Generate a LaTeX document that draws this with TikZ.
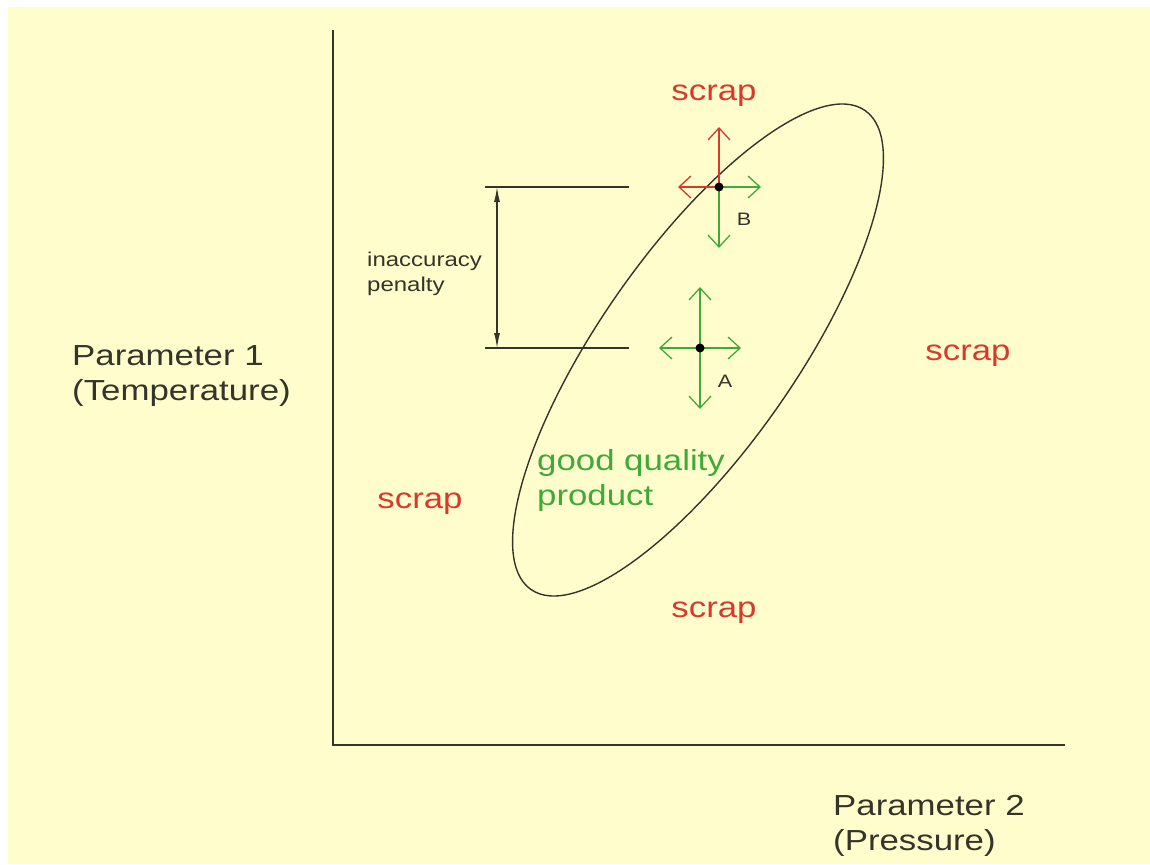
\documentclass[tikz,border=0pt]{standalone}
\usepackage{fontspec}
\setmainfont{Liberation Sans}[FakeStretch=1.2]
\usetikzlibrary{arrows.meta}
\definecolor{bgyellow}{HTML}{FFFDCC}
\definecolor{scrapred}{HTML}{D63A2E}
\definecolor{goodgreen}{HTML}{3FAA3A}
\definecolor{linedark}{HTML}{34342A}
\tikzset{
  axisline/.style={draw=linedark, line width=1.8pt},
  thinline/.style={draw=linedark, line width=1.4pt},
  bigtext/.style={font=\fontsize{29}{35}\selectfont, inner sep=0pt, align=left},
  smalltext/.style={font=\fontsize{20}{25}\selectfont, inner sep=0pt, align=left, text=linedark},
  scraplabel/.style={bigtext, text=scrapred},
  vtip/.style={-{Straight Barb[length=12pt,width=22pt,line width=1.3pt]}},
  greenarrow/.style={draw=goodgreen, line width=1.3pt, vtip},
  redarrow/.style={draw=scrapred, line width=1.3pt, vtip},
  dimarrow/.style={draw=linedark, line width=1.2pt, {Latex[length=15pt,width=6pt]}-{Latex[length=15pt,width=6pt]}},
  pointdot/.style={circle, fill=black, inner sep=0pt, minimum size=9pt},
}
\begin{document}
\begin{tikzpicture}[x=1pt,y=-1pt]
\useasboundingbox (0,0) rectangle (1150,864);
\fill[white] (0,0) rectangle (1150,864);
\fill[bgyellow] (8,7) rectangle (1150,864);
% axes
\coordinate (ytop) at (333,30);
\coordinate (origin) at (333,745);
\coordinate (xend) at (1065,745);
\draw[axisline] (ytop) -- (origin) -- (xend);
% ellipse
\draw[thinline] (698,350) ellipse[x radius=292, y radius=98, rotate=55.1];
% dimension lines
\coordinate (d1l) at (485,187);
\coordinate (d1r) at (629,187);
\coordinate (d2l) at (485,348);
\coordinate (d2r) at (629,348);
\coordinate (dt) at (497,187);
\coordinate (db) at (497,348);
\draw[thinline] (d1l) -- (d1r);
\draw[thinline] (d2l) -- (d2r);
\draw[dimarrow] (dt) -- (db);
\node[smalltext, anchor=west] (pen) at (367,274) {inaccuracy\\penalty};
% point A
\coordinate (Ac) at (700,348);
\coordinate (Aup) at (700,287);
\coordinate (Adn) at (700,409);
\coordinate (Alf) at (659,348);
\coordinate (Art) at (741,348);
\draw[greenarrow] (Ac) -- (Aup);
\draw[greenarrow] (Ac) -- (Adn);
\draw[greenarrow] (Ac) -- (Alf);
\draw[greenarrow] (Ac) -- (Art);
\node[pointdot] (A) at (Ac) {};
\node[smalltext, font=\fontsize{18}{20}\selectfont] (Alab) at (725,381) {A};
% point B
\coordinate (Bc) at (719,187);
\coordinate (Bup) at (719,127);
\coordinate (Bdn) at (719,248);
\coordinate (Blf) at (678,187);
\coordinate (Brt) at (761,187);
\draw[redarrow] (Bc) -- (Bup);
\draw[greenarrow] (Bc) -- (Bdn);
\draw[redarrow] (Bc) -- (Blf);
\draw[greenarrow] (Bc) -- (Brt);
\node[pointdot] (B) at (Bc) {};
\node[smalltext, font=\fontsize{18}{20}\selectfont] (Blab) at (744,219) {B};
% scrap labels
\node[scraplabel] (s1) at (714,96) {scrap};
\node[scraplabel] (s2) at (968,356) {scrap};
\node[scraplabel] (s3) at (420,504) {scrap};
\node[scraplabel] (s4) at (714,613) {scrap};
% good quality
\node[bigtext, text=goodgreen, anchor=west] (good) at (537,480) {good quality\\product};
% axis labels
\node[bigtext, text=linedark, anchor=west] (p1) at (72,376) {Parameter 1\\(Temperature)};
\node[bigtext, text=linedark, anchor=west] (p2) at (833,826) {Parameter 2\\(Pressure)};
\end{tikzpicture}
\end{document}
